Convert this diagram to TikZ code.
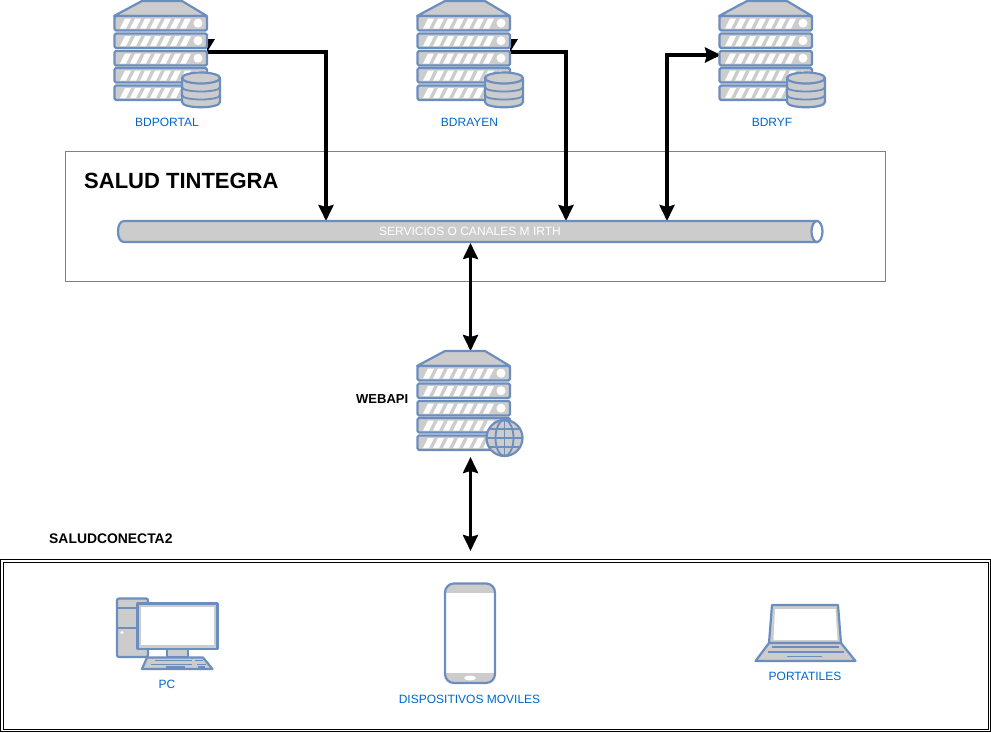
\documentclass[tikz,border=0pt]{standalone}
\usepackage{fontspec}
\setmainfont{Liberation Sans}
\usetikzlibrary{arrows.meta}
\definecolor{iconblue}{HTML}{6C8EBF}
\definecolor{icongray}{HTML}{CCCCCC}
\definecolor{labelblue}{HTML}{0066CC}
\tikzset{
  icon/.style={draw=iconblue,fill=icongray,line width=2.2pt,line join=round},
  iconline/.style={draw=iconblue,line width=1.8pt},
  stripe/.style={fill=white},
  linktip/.style={line width=3.5pt,-{Stealth[length=16pt,width=15pt,inset=2pt]}},
  link/.style={draw=black,line width=3.5pt,{Stealth[length=16pt,width=15pt,inset=2pt]}-{Stealth[length=16pt,width=15pt,inset=2pt]}},
  iconlabel/.style={text=labelblue,font=\fontsize{12}{14}\selectfont},
  blacklabel/.style={text=black,font=\bfseries\fontsize{13}{15}\selectfont,anchor=west},
  serverrack/.pic={
    \draw[icon] (-47,16) -- (-19,1) -- (21,1) -- (46,16) -- cycle;
    \foreach \ytop in {16,33.5,51,68,85.5}{
      \draw[icon,rounded corners=1.5pt] (-46.5,\ytop) rectangle (46,\ytop+14.5);
      \foreach \i in {0,...,6}
        \fill[stripe] (-41+10*\i,\ytop+12.5) -- (-36+10*\i,\ytop+2.5) -- (-30+10*\i,\ytop+2.5) -- (-35+10*\i,\ytop+12.5) -- cycle;
      \fill[white] (37,\ytop+7.2) circle (4.5pt);
    };
  },
  dbstack/.pic={
    \draw[icon] (-19,78) -- (-19,102) .. controls (-19,109) and (19,109) .. (19,102) -- (19,78);
    \draw[icon] (0,78) ellipse (19pt and 5.5pt);
    \draw[iconline] (-19,87) .. controls (-19,93) and (19,93) .. (19,87);
    \draw[iconline] (-19,95) .. controls (-19,101) and (19,101) .. (19,95);
  },
  globeicon/.pic={
    \draw[icon] (0,0) circle (18pt);
    \draw[iconline] (0,0) ellipse (9pt and 18pt);
    \draw[iconline] (0,-18) -- (0,18);
    \draw[iconline] (-18,0) -- (18,0);
    \draw[iconline] (-15.5,-9) -- (15.5,-9);
    \draw[iconline] (-15.5,9) -- (15.5,9);
  },
}
\begin{document}
\begin{tikzpicture}[x=1pt,y=-1pt]
  \useasboundingbox (0,0) rectangle (991,732);

  % cajas
  \draw[draw=gray,line width=1pt] (65.5,151.5) rectangle (885.5,281.5);
  \draw[draw=black,line width=1pt] (0.5,559.5) rectangle (990,731.5);
  \draw[draw=black,line width=1pt] (3,562) rectangle (988,729);
  \node[anchor=west,font=\bfseries\fontsize{22}{26}\selectfont,inner sep=0pt] (tintegra) at (84,181) {SALUD TINTEGRA};
  \node[blacklabel,font=\bfseries\fontsize{13.9}{16}\selectfont,inner sep=0pt] (conecta) at (49,539) {SALUDCONECTA2};

  % puntos sobre el canal
  \coordinate (busportal) at (326,221);
  \coordinate (busrayen) at (566,221);
  \coordinate (busryf) at (667,221);
  \coordinate (busapi) at (470.5,243);
  \coordinate (apitop) at (470.5,351);
  \coordinate (apibottom) at (470.5,457);
  \coordinate (devices) at (470.5,551);

  % conexiones
  \coordinate (portalstart) at (207,52);
  \coordinate (rayenstart) at (510,52);
  \coordinate (ryfport) at (721,55);
  \fill (portalstart) -- (215,39) -- (207,39) -- cycle;
  \fill (rayenstart) -- (518,39) -- (510,39) -- cycle;
  \draw[linktip] (portalstart) -| (busportal);
  \draw[linktip] (rayenstart) -| (busrayen);
  \draw[link] (busryf) |- (ryfport);
  \draw[link] (busapi) -- (apitop);
  \draw[link] (apibottom) -- (devices);

  % servidores
  \pic (bdportal) at (161,0) {serverrack};
  \pic (bdportaldb) at (201,0) {dbstack};
  \pic (bdrayen) at (464,0) {serverrack};
  \pic (bdrayendb) at (504,0) {dbstack};
  \pic (bdryf) at (766,0) {serverrack};
  \pic (bdryfdb) at (806,0) {dbstack};
  \pic (webapi) at (464,350) {serverrack};
  \pic (webglobe) at (504.5,438) {globeicon};

  \node[iconlabel] (lblportal) at (167,122) {BDPORTAL};
  \node[iconlabel] (lblrayen) at (469.5,122) {BDRAYEN};
  \node[iconlabel] (lblryf) at (772,122) {BDRYF};
  \node[blacklabel,inner sep=0pt] (lblapi) at (356,399) {WEBAPI};

  % canal
  \draw[icon] (818,221) -- (124,221) .. controls (120,221) and (118,226) .. (118,231.5) .. controls (118,237) and (120,242) .. (124,242) -- (818,242);
  \draw[iconline,fill=white,line width=2.2pt] (817,231.5) ellipse (5.5pt and 10.5pt);
  \node[text=white,font=\fontsize{12}{14}\selectfont] (canal) at (470,231.5) {SERVICIOS O CANALES M IRTH};

  % pc
  \draw[icon,rounded corners=2pt] (117,598.5) rectangle (148,657);
  \draw[iconline] (117,608) -- (148,608);
  \draw[iconline] (117,628) -- (148,628);
  \fill[white] (122,632.5) circle (1.7pt);
  \draw[icon] (167,649) rectangle (188,657);
  \draw[icon] (147,657.5) -- (203,657.5) -- (212.5,669) -- (142,669) -- cycle;
  \draw[icon] (137.5,603.5) rectangle (217.5,649);
  \fill[white] (141,607) rectangle (214,645);
  \draw[iconline] (155,660.5) -- (192,660.5);
  \draw[iconline] (195,660.5) -- (203,660.5);
  \draw[iconline] (151,664.5) -- (192,664.5);
  \draw[iconline] (197,664.5) -- (206,664.5);
  \draw[iconline] (166,667) -- (185,667);
  \draw[iconline] (198,667) -- (205,667);
  \node[iconlabel] (lblpc) at (167,684) {PC};

  % movil
  \fill[icongray,rounded corners=9pt] (445,583.5) rectangle (495,683);
  \fill[white] (446,593) rectangle (494,673);
  \fill[white] (470,678) ellipse (6pt and 2.3pt);
  \draw[draw=iconblue,line width=2.2pt,rounded corners=9pt] (445,583.5) rectangle (495,683);
  \node[iconlabel] (lblmovil) at (469.5,699) {DISPOSITIVOS MOVILES};

  % portatil
  \draw[icon] (772,605) -- (838,605) -- (841,643) -- (769,643) -- cycle;
  \fill[white] (775,609) -- (835.5,609) -- (837.5,640) -- (773.5,640) -- cycle;
  \draw[icon] (769,643) -- (841,643) -- (855.5,661) -- (755.5,661) -- cycle;
  \draw[iconline] (772,647) -- (839,647);
  \draw[iconline] (768,652) -- (844,652);
  \draw[iconline] (787,656.5) -- (822,656.5);
  \node[iconlabel] (lblportatil) at (805,676) {PORTATILES};
\end{tikzpicture}
\end{document}
